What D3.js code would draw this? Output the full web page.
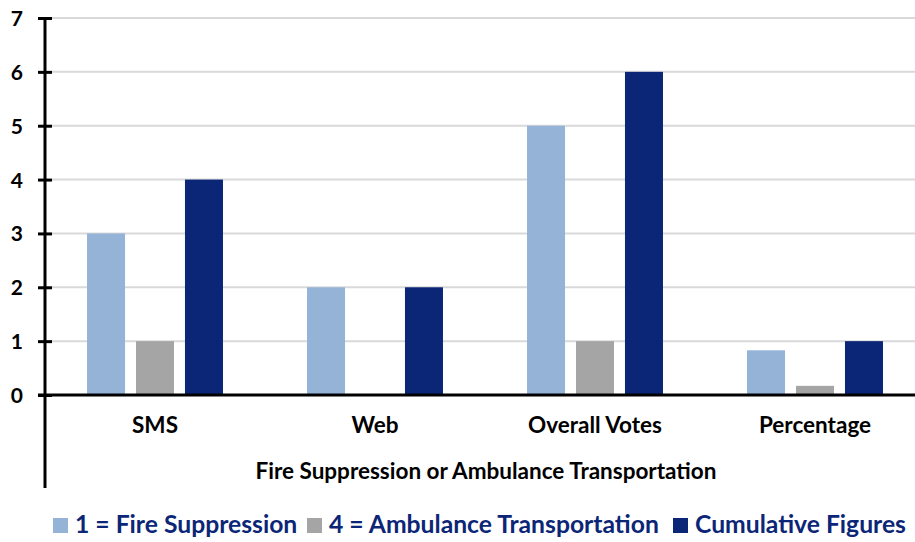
<!DOCTYPE html>
<html>
<head>
<meta charset="utf-8">
<script src="https://cdn.jsdelivr.net/npm/d3@7"></script>
<style>
  body { margin: 0; background: #fff; }
  svg text { font-family: Lato, "Open Sans", sans-serif; font-weight: 700; }
</style>
</head>
<body>
<div class="chart"></div>
<script>
var width = 915;
var height = 542;

// data
var categories = ['SMS', 'Web', 'Overall Votes', 'Percentage'];
var seriesNames = ['1 = Fire Suppression', '4 = Ambulance Transportation', 'Cumulative Figures'];
var fireSuppression = [3, 2, 5, 0.83];
var ambulance = [1, 0, 1, 0.17];
var cumulative = [4, 2, 6, 1];
var yTicks = [0, 1, 2, 3, 4, 5, 6, 7];
var colors = ['#95b3d7', '#a5a5a5', '#0c2677'];
var axisTitle = 'Fire Suppression or Ambulance Transportation';

var seriesValues = [fireSuppression, ambulance, cumulative];
var rows = categories.map(function(c, i){
    return {cat: c, values: seriesValues.map(function(s, j){ return {key: seriesNames[j], value: s[i], idx: j} })}
});

var svg = d3.select('div.chart').append('svg')
    .attr('width', width)
    .attr('height', height)

//scales
var y_scale = d3.scaleLinear()
    .domain([0, 7])
    .range([395, 18])
var x0 = d3.scaleBand()
    .domain(categories)
    .range([45, 925])
    .paddingInner(0.382)
    .paddingOuter(0.191)
var x1 = d3.scaleBand()
    .domain(seriesNames)
    .range([0, x0.bandwidth()])
    .paddingInner(0.224)

// gridlines
svg.append('g')
    .attr('class', 'grid')
    .selectAll('line')
    .data(yTicks.filter(function(d){ return d > 0 }))
    .enter()
    .append('line')
    .attr('x1', 52)
    .attr('x2', width)
    .attr('y1', function(d){ return y_scale(d) })
    .attr('y2', function(d){ return y_scale(d) })
    .attr('stroke', '#d9d9d9')
    .attr('stroke-width', 2)

// bars
svg.append('g')
    .selectAll('g')
    .data(rows)
    .enter()
    .append('g')
    .attr('transform', function(d){ return 'translate(' + x0(d.cat) + ',0)' })
    .selectAll('rect')
    .data(function(d){ return d.values })
    .enter()
    .append('rect')
    .attr('x', function(d){ return x1(d.key) })
    .attr('width', x1.bandwidth())
    .attr('y', function(d){ return y_scale(d.value) })
    .attr('height', function(d){ return y_scale(0) - y_scale(d.value) })
    .attr('fill', function(d){ return colors[d.idx] })

// y axis
var y_axis = d3.axisLeft(y_scale).tickValues(yTicks).tickFormat(d3.format('d')).tickSize(7).tickPadding(15)
var yg = svg.append('g')
    .attr('class', 'y-axis')
    .attr('transform', 'translate(45,0)')
    .call(y_axis)
yg.select('.domain').remove()
yg.selectAll('.tick line')
    .attr('x1', -7).attr('x2', 7)
    .attr('stroke', '#000').attr('stroke-width', 3)
yg.selectAll('.tick text')
    .style('font-size', '21px')
    .attr('fill', '#000')
    .attr('dy', '0.36em')
yg.append('line')
    .attr('x1', 0).attr('x2', 0)
    .attr('y1', y_scale(7)).attr('y2', 488)
    .attr('stroke', '#000').attr('stroke-width', 3)

// x axis
var x_axis = d3.axisBottom(x0).tickSize(0).tickPadding(22)
var xg = svg.append('g')
    .attr('class', 'x-axis')
    .attr('transform', 'translate(0,' + y_scale(0) + ')')
    .call(x_axis)
xg.select('.domain').remove()
xg.append('line')
    .attr('x1', 38).attr('x2', width)
    .attr('stroke', '#000').attr('stroke-width', 3)
xg.selectAll('.tick text')
    .style('font-size', '22.5px')
    .attr('fill', '#000')

svg.append('text')
    .attr('x', 486)
    .attr('y', 479)
    .style('text-anchor', 'middle')
    .style('font-size', '22.5px')
    .attr('fill', '#000')
    .text(axisTitle)

// legend
var legendX = [53, 307, 673];
var legend = svg.append('g')
    .selectAll('g')
    .data(seriesNames)
    .enter()
    .append('g')
    .attr('transform', function(d, i){ return 'translate(' + legendX[i] + ',518)' })
legend.append('rect')
    .attr('width', 15).attr('height', 15)
    .attr('fill', function(d, i){ return colors[i] })
legend.append('text')
    .attr('x', 22)
    .attr('y', 15)
    .style('font-size', '24.7px')
    .attr('fill', '#0c2677')
    .text(function(d){ return d })
</script>
</body>
</html>
